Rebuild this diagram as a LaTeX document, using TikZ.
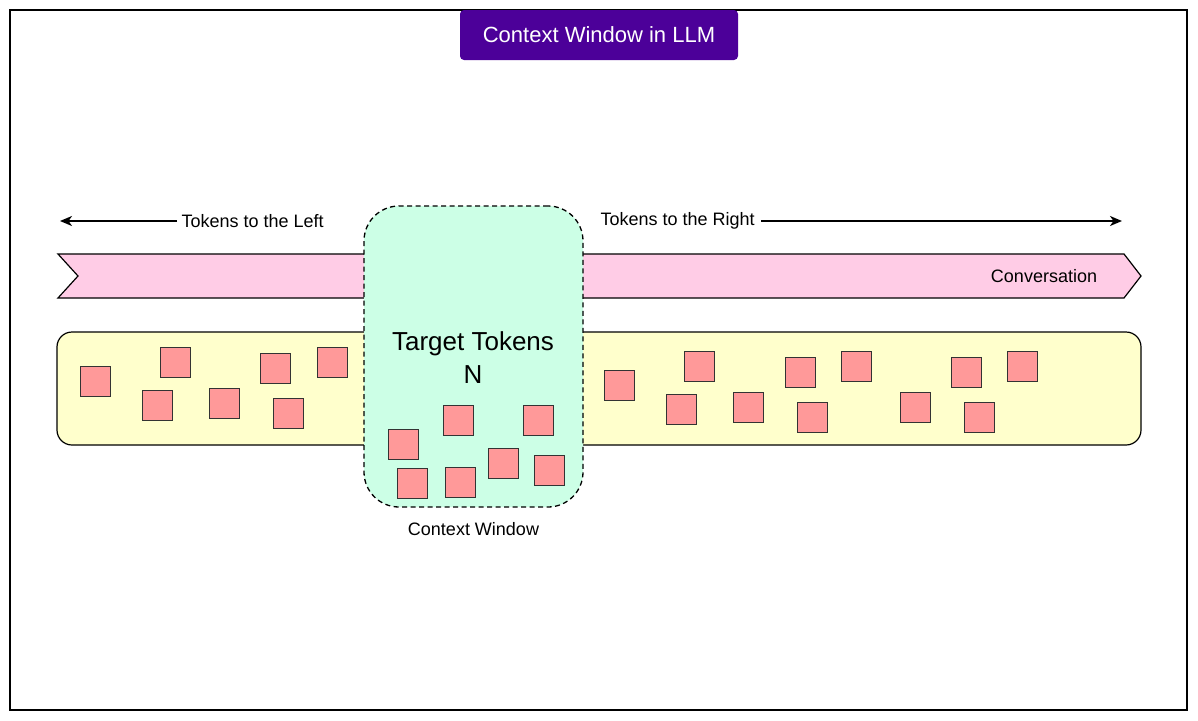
\documentclass[tikz,border=0pt]{standalone}
\usepackage{fontspec}
\setmainfont{Liberation Sans}
\usepackage{xcolor}
\definecolor{colorTitle}{HTML}{4C0099}
\definecolor{colorBanner}{HTML}{FFCCE6}
\definecolor{colorTrack}{HTML}{FFFFCC}
\definecolor{colorWindow}{HTML}{CCFFE6}
\definecolor{colorToken}{HTML}{FF9999}
\usepackage{tikz}
\usetikzlibrary{arrows.meta, positioning}
\tikzset{
  token/.style={draw=black!80, line width=0.9pt, fill=colorToken, minimum size=30pt, inner sep=0pt},
  small text/.style={font=\fontsize{18}{22}\selectfont, inner sep=2pt},
  window/.style={draw, dash pattern=on 5pt off 3.5pt, line width=1.3pt, fill=colorWindow, rounded corners=35pt, minimum width=219pt, minimum height=301pt}
}

\begin{document}
\begin{tikzpicture}[>={Stealth[length=12pt, width=10pt, inset=3.5pt]}, x=1pt, y=-1pt, line width=1.2pt]
\useasboundingbox (0,0) rectangle (1198,720);
\draw[line width=1.5pt] (10,10) rectangle (1187,710);
\node[fill=colorTitle, text=white, rounded corners=4pt, minimum width=278pt, minimum height=50pt, font=\fontsize{22}{26}\selectfont] (title) at (599,35) {Context Window in LLM};
% conversation banner and token track
\draw[fill=colorBanner] (58,254) -- (1124,254) -- (1141,276) -- (1124,298) -- (58,298) -- (78,276) -- cycle;
\node[small text] (conv) at (1044,276) {Conversation};
\draw[fill=colorTrack, rounded corners=15pt] (57,332) rectangle (1141,445);
% direction arrows
\node[small text, anchor=west] (left) at (179,221) {Tokens to the Left};
\node[small text, anchor=west] (right) at (598,221) {Tokens to the Right};
\coordinate (leftEnd) at (60,221);
\coordinate (rightEnd) at (1122,221);
\draw[->, line width=1.8pt, shorten <=2pt] (left.west) -- (leftEnd);
\draw[->, line width=1.8pt, shorten <=4pt] (right.east) -- (rightEnd);
% context window
\node[window] (win) at (473.5,356.5) {};
\node[align=center, font=\fontsize{26}{33}\selectfont] (target) at (473,358) {Target Tokens\\N};
\node[small text, below=12pt of win] (winLabel) {Context Window};
% tokens on the left
\node[token] (t1) at (95,381) {};
\node[token] (t2) at (175,362) {};
\node[token] (t3) at (157,405) {};
\node[token] (t4) at (224,403) {};
\node[token] (t5) at (275,368) {};
\node[token] (t6) at (332,362) {};
\node[token] (t7) at (288,413) {};
% tokens in the window
\node[token] (t8) at (403,444) {};
\node[token] (t9) at (458,420) {};
\node[token] (t10) at (538,420) {};
\node[token] (t11) at (412,483) {};
\node[token] (t12) at (460,482) {};
\node[token] (t13) at (503,463) {};
\node[token] (t14) at (549,470) {};
% tokens on the right
\node[token] (t15) at (619,385) {};
\node[token] (t16) at (699,366) {};
\node[token] (t17) at (681,409) {};
\node[token] (t18) at (748,407) {};
\node[token] (t19) at (800,372) {};
\node[token] (t20) at (856,366) {};
\node[token] (t21) at (812,417) {};
\node[token] (t22) at (915,407) {};
\node[token] (t23) at (966,372) {};
\node[token] (t24) at (1022,366) {};
\node[token] (t25) at (979,417) {};
\end{tikzpicture}
\end{document}
